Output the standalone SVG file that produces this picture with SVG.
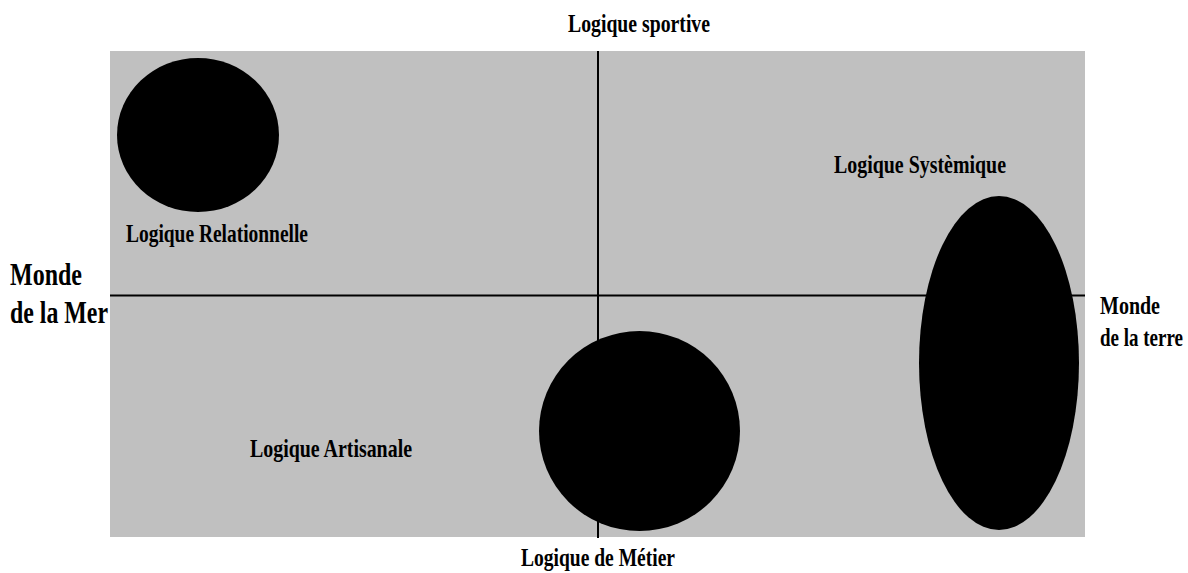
<svg xmlns="http://www.w3.org/2000/svg" width="1188" height="573" viewBox="0 0 1188 573">
<style>
.t{font-family:"Liberation Serif","Times New Roman",serif;font-weight:bold;font-size:26px;fill:#000}
.big{font-size:31px}
.ax{stroke:#000;stroke-width:2;fill:none}
.blob{fill:#000}
</style>
<rect x="0" y="0" width="1188" height="573" fill="#fff"/>
<rect id="field" x="110" y="51" width="975" height="486" fill="#c0c0c0"/>
<g id="connectors">
<line class="ax" x1="598" y1="51" x2="598" y2="538"/>
<line class="ax" x1="110" y1="295.5" x2="1085" y2="295.5"/>
</g>
<g id="relationnelle">
<ellipse class="blob" cx="198" cy="135" rx="81" ry="77"/>
<text class="t" x="126" y="242" textLength="182" lengthAdjust="spacingAndGlyphs">Logique Relationnelle</text>
</g>
<g id="artisanale">
<ellipse class="blob" cx="639.5" cy="431" rx="100.5" ry="100"/>
<text class="t" x="250" y="457" textLength="162" lengthAdjust="spacingAndGlyphs">Logique Artisanale</text>
</g>
<g id="systemique">
<ellipse class="blob" cx="999" cy="363" rx="80" ry="167"/>
<text class="t" x="834" y="173" textLength="172" lengthAdjust="spacingAndGlyphs">Logique Systèmique</text>
</g>
<g id="labels">
<text class="t" x="568" y="32" textLength="142" lengthAdjust="spacingAndGlyphs">Logique sportive</text>
<text class="t" x="521" y="566" textLength="154" lengthAdjust="spacingAndGlyphs">Logique de Métier</text>
<text class="t big" x="10" y="285" textLength="72" lengthAdjust="spacingAndGlyphs">Monde</text>
<text class="t big" x="10" y="323" textLength="98" lengthAdjust="spacingAndGlyphs">de la Mer</text>
<text class="t" x="1100" y="314" textLength="60" lengthAdjust="spacingAndGlyphs">Monde</text>
<text class="t" x="1100" y="346" textLength="83" lengthAdjust="spacingAndGlyphs">de la terre</text>
</g>
</svg>
